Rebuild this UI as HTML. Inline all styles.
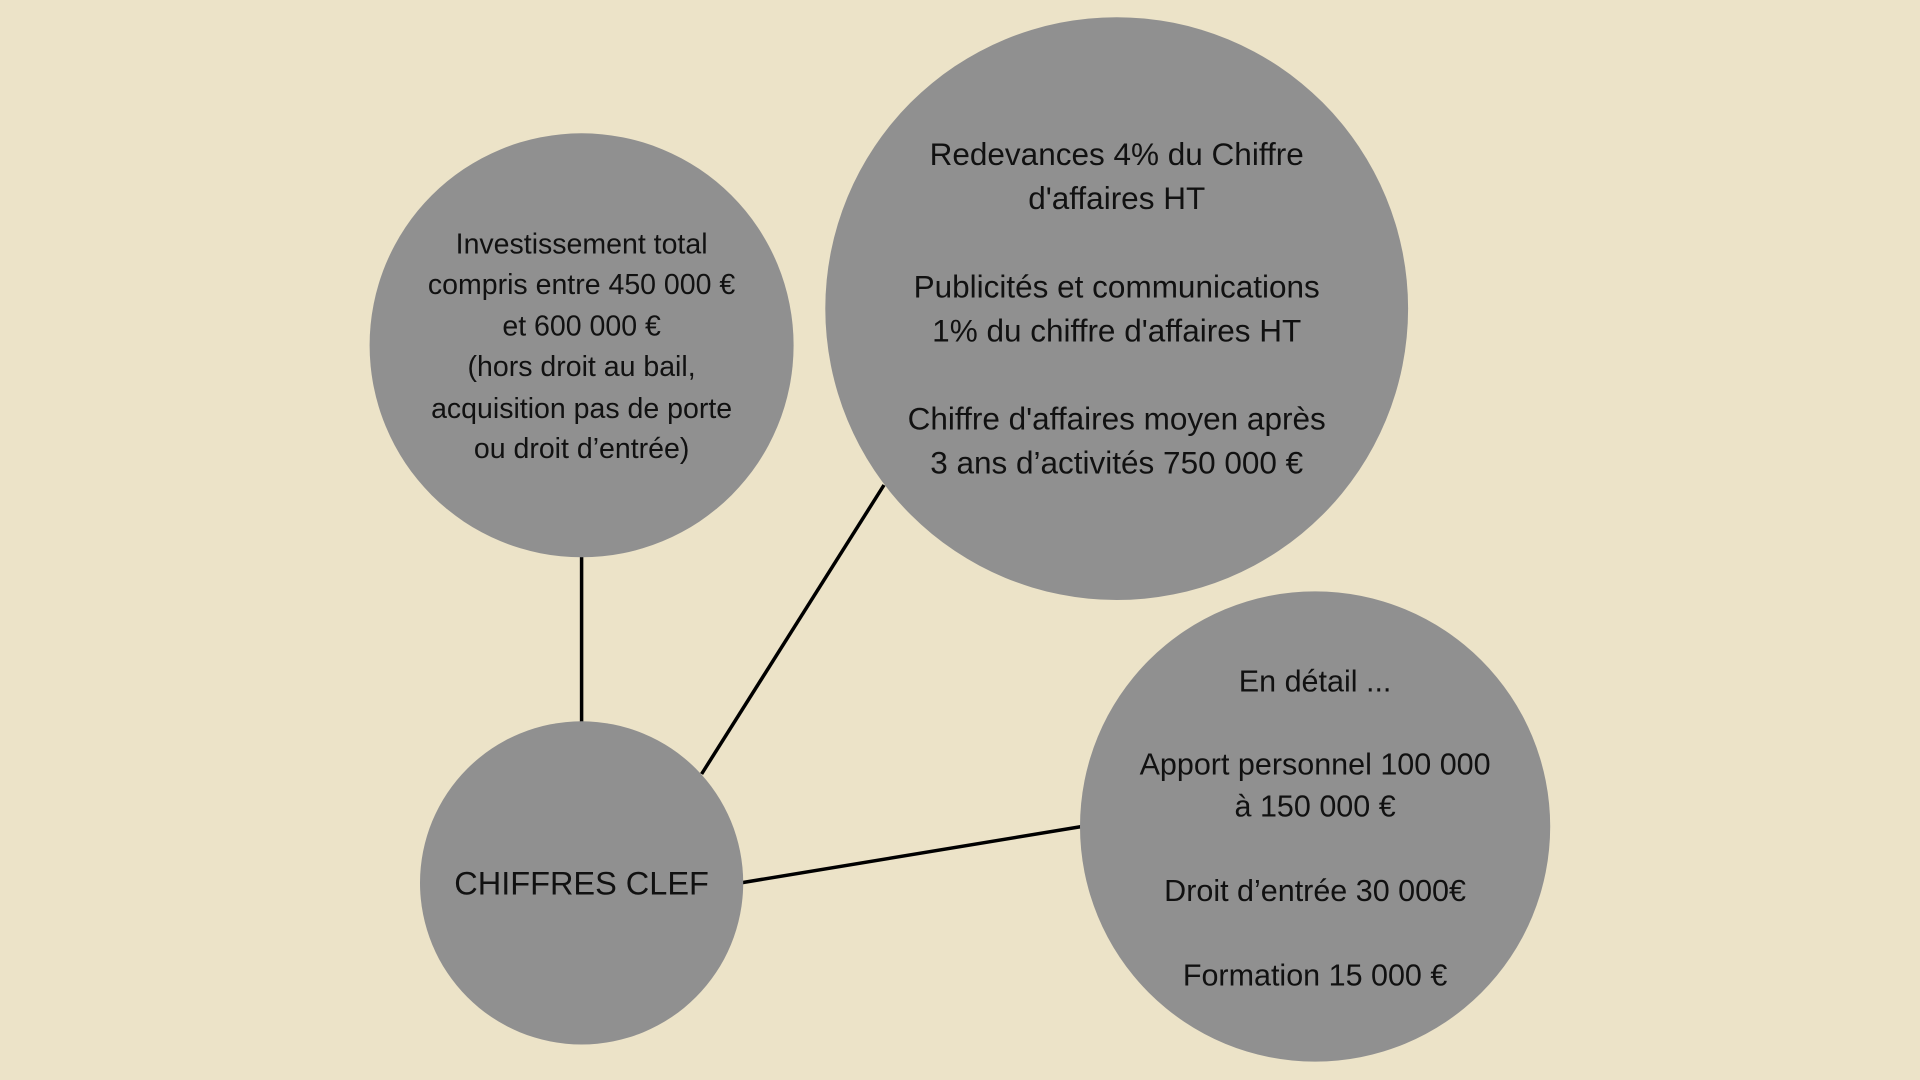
<!DOCTYPE html>
<html><head><meta charset="utf-8"><style>
html,body{margin:0;padding:0;background:#ECE3C8;}
svg{display:block;}
text{font-family:"Liberation Sans",sans-serif;fill:#111;text-anchor:middle;dominant-baseline:middle;}
</style></head><body>
<svg width="1920" height="1080" viewBox="0 0 1920 1080">
<rect width="1920" height="1080" fill="#ECE3C8"/>
<g stroke="#000" stroke-width="3.5">
<line x1="581.6" y1="550" x2="581.6" y2="725"/>
<line x1="884" y1="485" x2="701.6" y2="774"/>
<line x1="740" y1="883" x2="1085" y2="826"/>
</g>
<g fill="#909090">
<circle cx="581.6" cy="345.3" r="212"/>
<circle cx="1116.7" cy="308.6" r="291.4"/>
<circle cx="1315.1" cy="826.5" r="235.1"/>
<circle cx="581.6" cy="882.9" r="161.6"/>
</g>
<g font-size="28.5">
<text x="581.6" y="246.2">Investissement total</text>
<text x="581.6" y="286.6">compris entre 450 000 €</text>
<text x="581.6" y="328.2">et 600 000 €</text>
<text x="581.6" y="368.6">(hors droit au bail,</text>
<text x="581.6" y="410.3">acquisition pas de porte</text>
<text x="581.6" y="450.7">ou droit d’entrée)</text>
</g>
<g font-size="31.5">
<text x="1116.7" y="156.8">Redevances 4% du Chiffre</text>
<text x="1116.7" y="200.9">d'affaires HT</text>
<text x="1116.7" y="289">Publicités et communications</text>
<text x="1116.7" y="333.1">1% du chiffre d'affaires HT</text>
<text x="1116.7" y="421.3">Chiffre d'affaires moyen après</text>
<text x="1116.7" y="465.4">3 ans d’activités 750 000 €</text>
</g>
<g font-size="30.5">
<text x="1315.1" y="683.3">En détail ...</text>
<text x="1315.1" y="766.6">Apport personnel 100 000</text>
<text x="1315.1" y="808.2">à 150 000 €</text>
<text x="1315.1" y="892.7">Droit d’entrée 30 000€</text>
<text x="1315.1" y="977.2">Formation 15 000 €</text>
</g>
<text x="581.6" y="886" font-size="32.5">CHIFFRES CLEF</text>
</svg>
</body></html>
